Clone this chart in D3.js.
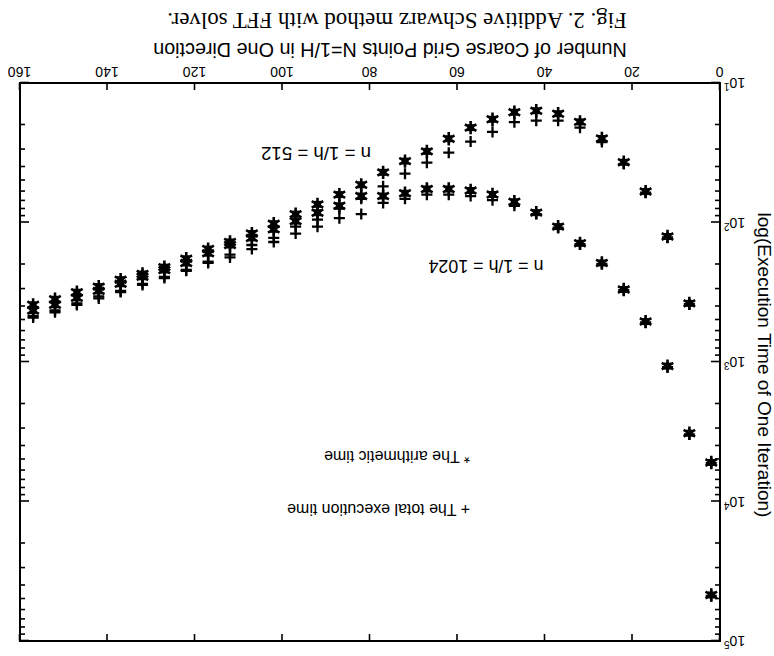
<!DOCTYPE html>
<html>
<head>
<meta charset="utf-8">
<script src="https://cdn.jsdelivr.net/npm/d3@7"></script>
<style>
  body { margin: 0; background: #fff; }
  text { fill: #000; }
</style>
</head>
<body>
<div id="chart"></div>
<script>
// coarse grid points N (x) and execution time of one iteration (y, log scale)
const coarseN = [2, 7, 12, 17, 22, 27, 32, 37, 42, 47, 52, 57, 62, 67, 72, 77,
                 82, 87, 92, 97, 102, 107, 112, 117, 122, 127, 132, 137, 142, 147, 152, 157];
const arith512 = [5250, 380, 126, 60, 37, 25, 19, 16.6, 15.8, 16.2, 18.2, 20.9, 25.1, 30.9, 36.3, 43.7,
                  53.7, 63.1, 74.1, 87.1, 102, 120, 138, 155, 182, 209, 234, 257, 288, 316, 355, 389];
const total512 = [5300, 385, 128, 61, 38, 26.5, 20.9, 18.6, 18.6, 19.1, 22.4, 26.3, 31.6, 37.2, 44.7, 55,
                  67.6, 79.4, 95.5, 107, 129, 145, 170, 191, 219, 245, 275, 309, 339, 380, 427, 468];
const arith1024 = [46800, 3240, 1070, 513, 302, 195, 141, 107, 85, 71, 63, 59, 57.5, 57.5, 61.7, 64.6,
                   64.6, 75.9, 85.1, 97.7, 112, 129, 145, 166, 195, 219, 245, 275, 309, 347, 389, 427];
const total1024 = [47500, 3300, 1090, 520, 306, 198, 143, 109, 87, 75.9, 69.2, 64.6, 63.1, 63.1, 67.6, 72.4,
                   87, 93, 107, 120, 138, 155, 178, 195, 222, 250, 280, 315, 350, 390, 440, 480];
const xTicks = [0, 20, 40, 60, 80, 100, 120, 140, 160];
const yMajor = [1e1, 1e2, 1e3, 1e4, 1e5];
const yMinor = [];
yMajor.slice(0, -1).forEach(p => [2, 3, 4, 5, 6, 7, 8, 9].forEach(m => yMinor.push(p * m)));

const width = 774, height = 656;
const sans = "'Liberation Sans', Arial, sans-serif";
const serif = "'Liberation Serif', 'Times New Roman', serif";

let svg = d3.select("#chart").append("svg")
    .attr("width", width)
    .attr("height", height);
svg.append("rect").attr("width", width).attr("height", height).attr("fill", "#fff");

// the scanned page is upside down, so the whole figure is turned 180 degrees
let g = svg.append("g").attr("transform", "rotate(180," + width / 2 + "," + height / 2 + ")");

let x = d3.scaleLinear().domain([0, 160]).range([54, 754]);
let y = d3.scaleLog().domain([10, 1e5]).range([573, 15]);

function plain(sel) {
    sel.select(".domain").remove();
    sel.selectAll("line").attr("stroke", "#000").attr("stroke-width", 1.6);
}

// size a text so that it spans the wanted width, returns the font size
function fit(t, w) {
    t.attr("font-size", 100);
    let s = 100 * w / t.node().getComputedTextLength();
    t.attr("font-size", s);
    return s;
}

// bottom axis with labels
g.append("g")
    .attr("transform", "translate(0,573)")
    .call(d3.axisBottom(x).tickValues(xTicks).tickSize(-7).tickSizeOuter(0).tickPadding(6).tickFormat(d3.format("d")))
    .call(plain)
    .call(a => a.selectAll("text").attr("font-family", sans).attr("font-size", 14));
// top axis
g.append("g")
    .attr("transform", "translate(0,15)")
    .call(d3.axisTop(x).tickValues(xTicks).tickSize(-7).tickSizeOuter(0).tickFormat(""))
    .call(plain);

// left axis, major ticks with labels 10^k
g.append("g")
    .attr("transform", "translate(54,0)")
    .call(d3.axisLeft(y).tickValues(yMajor).tickSize(-9).tickSizeOuter(0).tickPadding(4).tickFormat(""))
    .call(plain)
    .call(a => a.selectAll(".tick text").each(function (d) {
        let t = d3.select(this).attr("font-family", sans).attr("font-size", 14);
        t.append("tspan").text("10");
        t.append("tspan").attr("dy", "-0.5em").attr("font-size", 10).text(Math.round(Math.log10(d)));
    }));
g.append("g")
    .attr("transform", "translate(54,0)")
    .call(d3.axisLeft(y).tickValues(yMinor).tickSize(-5).tickSizeOuter(0).tickFormat(""))
    .call(plain);
// right axis
g.append("g")
    .attr("transform", "translate(754,0)")
    .call(d3.axisRight(y).tickValues(yMajor).tickSize(-9).tickSizeOuter(0).tickFormat(""))
    .call(plain);
g.append("g")
    .attr("transform", "translate(754,0)")
    .call(d3.axisRight(y).tickValues(yMinor).tickSize(-5).tickSizeOuter(0).tickFormat(""))
    .call(plain);

// frame
g.append("rect")
    .attr("x", x(0)).attr("y", y(1e5))
    .attr("width", x(160) - x(0)).attr("height", y(10) - y(1e5))
    .attr("fill", "none").attr("stroke", "#000").attr("stroke-width", 2);

// markers
let plus = d3.symbol(d3.symbolPlus, 42);
let star = d3.symbol(d3.symbolAsterisk, 125);
let series = [
    { vals: total1024, mark: "plus" },
    { vals: total512, mark: "plus" },
    { vals: arith1024, mark: "star" },
    { vals: arith512, mark: "star" }
];
series.forEach(s => {
    let pts = g.append("g").selectAll("g")
        .data(coarseN.map((n, i) => [n, s.vals[i]]))
        .enter()
        .append("g")
        .attr("transform", d => "translate(" + x(d[0]) + "," + y(d[1]) + ")");
    if (s.mark === "plus") {
        pts.append("path").attr("d", plus).attr("fill", "none").attr("stroke", "#000").attr("stroke-width", 2.3);
    } else {
        pts.append("rect").attr("x", -3.5).attr("y", -3.5).attr("width", 7).attr("height", 7).attr("fill", "#000");
        pts.append("path").attr("d", star).attr("fill", "none").attr("stroke", "#000").attr("stroke-width", 2.6);
    }
});

// curve labels
let lab512 = g.append("text").attr("x", 458).attr("y", 509).attr("text-anchor", "middle")
    .attr("font-family", sans).text("n = 1/h = 512");
fit(lab512, 110);
let lab1024 = g.append("text").attr("x", 288).attr("y", 396).attr("text-anchor", "middle")
    .attr("font-family", sans).text("n = 1/h = 1024");
fit(lab1024, 115);

// legend
let leg1 = g.append("text").attr("x", 304).attr("y", 152)
    .attr("font-family", sans).text("+ The total execution time");
let legSize = fit(leg1, 183);
g.append("text").attr("x", 304).attr("y", 205)
    .attr("font-family", sans).attr("font-size", legSize).text("* The arithmetic time");

// axis titles and caption
let xTitle = g.append("text").attr("x", 384).attr("y", 613).attr("text-anchor", "middle")
    .attr("font-family", sans)
    .text("Number of Coarse Grid Points N=1/H in One Direction");
fit(xTitle, 474);
let yTitle = g.append("text").attr("transform", "translate(16,291) rotate(-90)").attr("text-anchor", "middle")
    .attr("font-family", sans)
    .text("log(Execution Time of One Iteration)");
fit(yTitle, 305);
let caption = g.append("text").attr("x", 377).attr("y", 643).attr("text-anchor", "middle")
    .attr("font-family", serif)
    .text("Fig. 2. Additive Schwarz method with FFT solver.");
fit(caption, 460);
</script>
</body>
</html>
